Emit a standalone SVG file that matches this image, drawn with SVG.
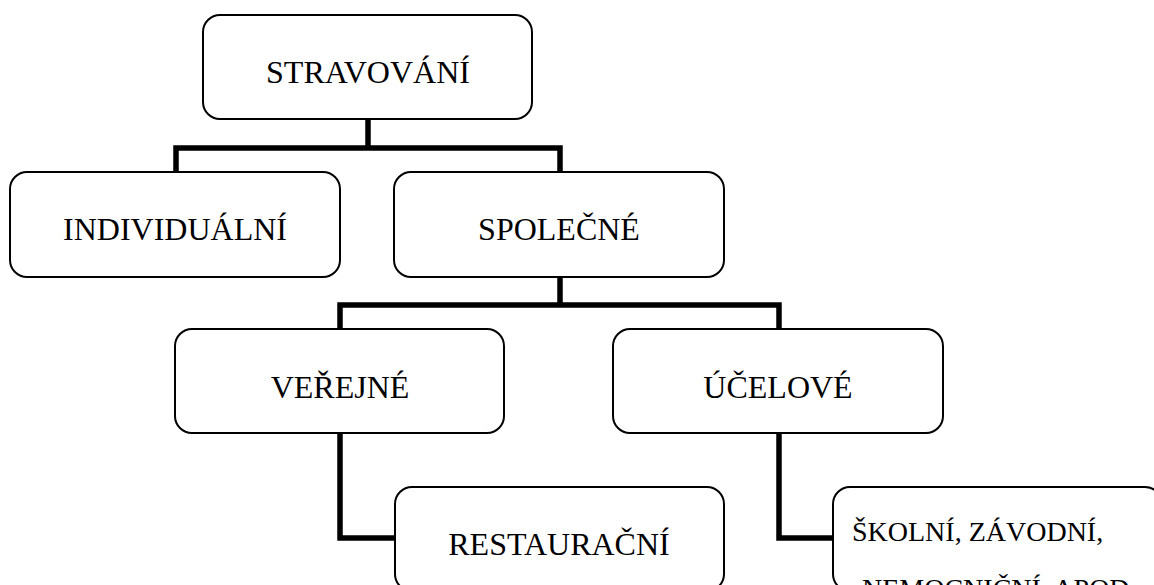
<svg xmlns="http://www.w3.org/2000/svg" width="1154" height="585" viewBox="0 0 1154 585">
<style>
.box{fill:#fff;stroke:#000;stroke-width:2}
.lbl{font-family:"Liberation Serif","Times New Roman",serif;font-size:32px;fill:#000;text-anchor:middle}
.sm{font-family:"Liberation Serif","Times New Roman",serif;font-size:28px;fill:#000}
.conn{fill:none;stroke:#000;stroke-width:5.5;stroke-linejoin:miter;stroke-linecap:butt}
</style>
<rect width="1154" height="585" fill="#fff"/>
<g id="connectors">
<path class="conn" d="M176 172 V148 H560 V172 M368 119 V148"/>
<path class="conn" d="M340 329 V305 H779 V329 M560 277 V305"/>
<path class="conn" d="M340 433 V538 H395"/>
<path class="conn" d="M779 433 V538 H833"/>
</g>
<g id="stravovani">
<rect class="box" x="203" y="15" width="329" height="104" rx="17"/>
<text class="lbl" x="368" y="83">STRAVOVÁNÍ</text>
</g>
<g id="individualni">
<rect class="box" x="10" y="172" width="330" height="105" rx="17"/>
<text class="lbl" x="175" y="240">INDIVIDUÁLNÍ</text>
</g>
<g id="spolecne">
<rect class="box" x="394" y="172" width="330" height="105" rx="17"/>
<text class="lbl" x="559" y="240">SPOLEČNÉ</text>
</g>
<g id="verejne">
<rect class="box" x="175" y="329" width="329" height="104" rx="17"/>
<text class="lbl" x="340" y="398">VEŘEJNÉ</text>
</g>
<g id="ucelove">
<rect class="box" x="613" y="329" width="330" height="104" rx="17"/>
<text class="lbl" x="778" y="398">ÚČELOVÉ</text>
</g>
<g id="restauracni">
<rect class="box" x="395" y="487" width="329" height="104" rx="17"/>
<text class="lbl" x="559" y="555">RESTAURAČNÍ</text>
</g>
<g id="skolni">
<rect class="box" x="833" y="487" width="329" height="104" rx="17"/>
<text class="sm" x="852" y="541">ŠKOLNÍ, ZÁVODNÍ,</text>
<text class="sm" x="862" y="598">NEMOCNIČNÍ, APOD.</text>
</g>
</svg>
